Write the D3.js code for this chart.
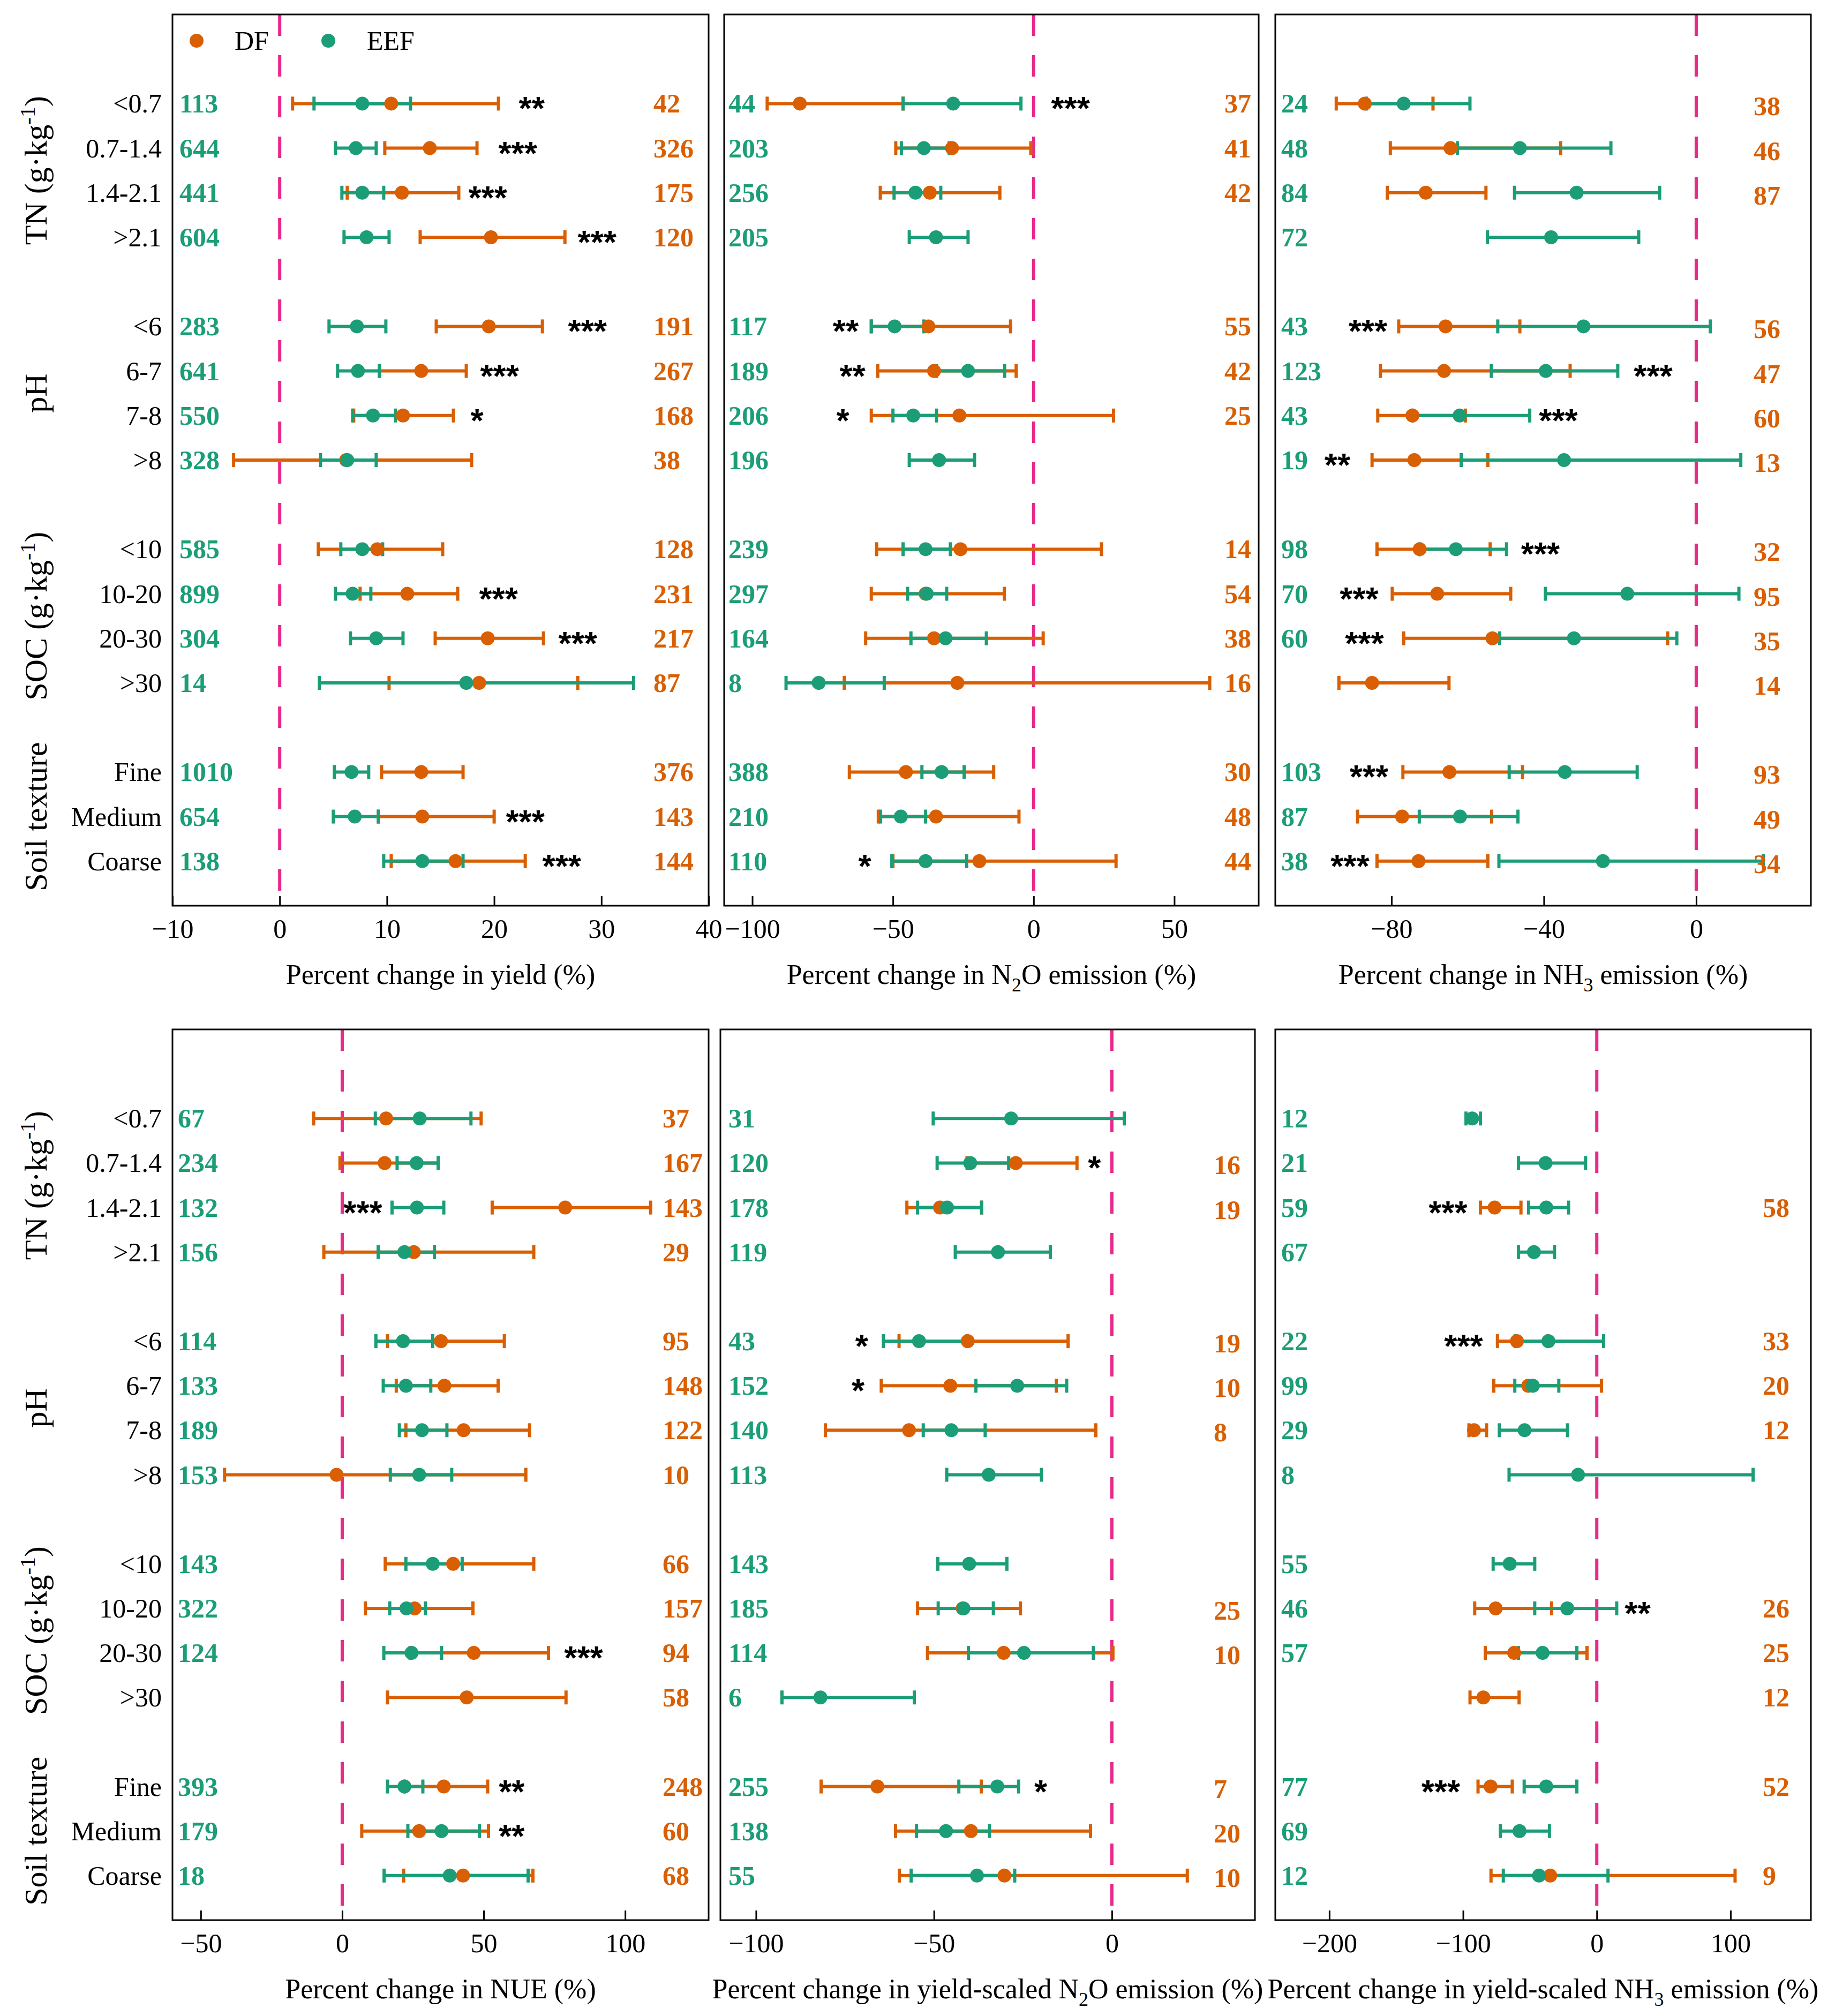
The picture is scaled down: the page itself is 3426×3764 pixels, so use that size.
<!DOCTYPE html>
<html><head><meta charset="utf-8">
<script src="https://cdn.jsdelivr.net/npm/d3@7"></script>
<style>body{margin:0;background:#fff} svg{display:block}</style>
</head><body>
<svg id="c" width="3426" height="3764"></svg>
<script>
// ---------------- DATA ----------------
const categories = ["<0.7","0.7-1.4","1.4-2.1",">2.1","<6","6-7","7-8",">8","<10","10-20","20-30",">30","Fine","Medium","Coarse"];
const groupNames = ["TN (g·kg-1)","pH","SOC (g·kg-1)","Soil texture"];
const groupSizes = [4,4,4,3];

// each entry: [mean, lower CI, upper CI]; null = not available
const yieldDF  = [[10.4,1.2,20.4],[14.0,9.8,18.4],[11.4,6.3,16.7],[19.7,13.1,26.6],[19.5,14.6,24.5],[13.2,9.3,17.4],[11.5,6.9,16.2],[6.2,-4.3,17.9],[9.1,3.6,15.2],[11.9,7.5,16.6],[19.4,14.5,24.6],[18.6,10.2,27.8],[13.2,9.5,17.1],[13.3,9.2,20.0],[16.4,10.4,22.9]];
const yieldEEF = [[7.7,3.2,12.2],[7.1,5.2,9.0],[7.7,5.8,9.7],[8.1,6.0,10.2],[7.2,4.6,9.9],[7.3,5.4,9.3],[8.7,6.8,10.8],[6.3,3.8,9.0],[7.7,5.7,9.6],[6.8,5.2,8.5],[9.0,6.6,11.5],[17.4,3.7,33.0],[6.7,5.1,8.3],[7.0,5.0,9.2],[13.3,9.7,17.1]];
const yieldDFn  = [42,326,175,120,191,267,168,38,128,231,217,87,376,143,144];
const yieldEEFn = [113,644,441,604,283,641,550,328,585,899,304,14,1010,654,138];
const yieldSig  = ["**","***","***","***","***","***","*","","","***","***","","","***","***"];
const yieldSigX = [23.5,22.2,19.4,29.6,28.7,20.5,18.4,null,null,20.4,27.8,null,null,22.9,26.3];
const yieldTicks = [-10,0,10,20,30,40];

const n2oDF  = [[-83.1,-94.7,-46.4],[-29.0,-49.0,-1.0],[-36.9,-54.5,-12.0],null,[-37.4,-57.7,-8.2],[-35.4,-55.4,-6.2],[-26.4,-57.7,28.4],null,[-26.0,-55.8,24.1],[-38.4,-57.7,-10.4],[-35.4,-59.7,3.4],[-27.1,-67.3,62.6],[-45.4,-65.5,-14.2],[-34.7,-55.2,-5.2],[-19.3,-50.0,29.3]];
const n2oEEF = [[-28.6,-46.4,-4.5],[-39.0,-47.0,-30.0],[-42.0,-49.6,-33.0],[-34.7,-44.2,-23.3],[-49.4,-57.7,-39.0],[-23.3,-34.5,-10.3],[-42.8,-50.0,-34.5],[-33.6,-44.2,-21.0],[-38.4,-46.4,-29.6],[-38.0,-44.8,-30.9],[-31.3,-43.6,-16.8],[-76.4,-88.0,-53.1],[-32.7,-39.7,-24.7],[-47.2,-54.4,-38.4],[-38.4,-50.4,-23.8]];
const n2oDFn  = [37,41,42,null,55,42,25,null,14,54,38,16,30,48,44];
const n2oEEFn = [44,203,256,205,117,189,206,196,239,297,164,8,388,210,110];
const n2oSig  = ["***","","","","**","**","*","","","","","","","","*"];
const n2oSigX = [13.1,null,null,null,-66.8,-64.4,-67.8,null,null,null,null,null,null,null,-60.0];
const n2oTicks = [-100,-50,0,50];

const nh3DF  = [[-87.0,-94.5,-69.1],[-64.5,-80.3,-35.6],[-71.0,-81.1,-55.2],null,[-65.8,-78.1,-46.3],[-66.2,-82.9,-33.1],[-74.5,-83.6,-60.6],[-74.0,-85.1,-54.7],[-72.6,-83.8,-54.1],[-68.0,-79.8,-48.7],[-53.5,-76.8,-7.5],[-85.1,-93.8,-64.9],[-64.8,-77.0,-45.6],[-77.2,-88.9,-53.7],[-72.9,-83.8,-54.7]];
const nh3EEF = [[-76.8,-86.6,-59.4],[-46.3,-62.7,-22.4],[-31.4,-47.7,-9.6],[-38.1,-54.8,-15.1],[-29.6,-52.1,3.7],[-39.5,-53.8,-20.6],[-62.1,-74.5,-43.7],[-34.7,-61.7,11.7],[-63.1,-72.6,-49.8],[-18.1,-39.6,11.2],[-32.1,-51.6,-5.1],null,[-34.5,-49.1,-15.5],[-62.0,-72.7,-46.8],[-24.5,-51.8,17.6]];
const nh3DFn  = [38,46,87,null,56,47,60,13,32,95,35,14,93,49,34];
const nh3EEFn = [24,48,84,72,43,123,43,19,98,70,60,null,103,87,38];
const nh3Sig  = ["","","","","***","***","***","**","***","***","***","","***","","***"];
const nh3SigX = [null,null,null,null,-86.2,-11.3,-36.2,-94.2,-40.9,-88.5,-87.1,null,-85.9,null,-90.9];
const nh3Ticks = [-80,-40,0];

const nueDF  = [[15.5,-10.1,49.1],[15.0,-0.8,33.9],[78.8,53.0,109.0],[25.3,-6.5,67.7],[34.9,16.0,57.3],[36.1,19.1,55.1],[42.9,22.5,66.2],[-2.0,-41.6,64.9],[39.2,15.2,67.7],[25.6,8.2,46.2],[46.5,24.0,72.9],[44.0,16.0,79.1],[35.9,22.0,51.4],[27.2,6.9,51.7],[42.7,21.7,67.4]];
const nueEEF = [[27.4,11.7,45.5],[26.3,19.4,33.9],[26.4,17.6,35.9],[22.0,12.7,32.6],[21.5,11.9,32.0],[22.5,14.5,31.3],[28.2,20.2,37.0],[27.2,17.0,38.7],[32.0,22.5,42.4],[22.7,16.8,29.4],[24.5,14.7,35.1],null,[22.0,16.0,28.5],[35.1,23.2,48.5],[38.0,14.8,65.7]];
const nueDFn  = [37,167,143,29,95,148,122,10,66,157,94,58,248,60,68];
const nueEEFn = [67,234,132,156,114,133,189,153,143,322,124,null,393,179,18];
const nueSig  = ["","","***","","","","","","","","***","","**","**",""];
const nueSigX = [null,null,7.3,null,null,null,null,null,null,null,85.3,null,59.9,59.9,null];
const nueTicks = [-50,0,50,100];

const ysn2oDF  = [null,[-27.0,-40.7,-9.8],[-48.3,-57.6,-36.6],null,[-40.5,-59.8,-12.3],[-45.4,-64.8,-15.6],[-57.0,-80.5,-4.5],null,null,[-41.9,-54.6,-25.7],[-30.4,-51.8,0.3],null,[-65.9,-81.7,-36.7],[-39.6,-60.8,-6.0],[-30.2,-59.7,21.2]];
const ysn2oEEF = [[-28.3,-50.2,3.5],[-39.8,-49.1,-29.0],[-46.3,-54.6,-36.6],[-32.0,-44.0,-17.3],[-54.2,-64.2,-40.7],[-26.6,-38.2,-12.7],[-45.1,-53.0,-35.6],[-34.6,-46.4,-19.8],[-40.1,-48.9,-29.5],[-41.7,-48.8,-33.3],[-24.7,-40.3,-5.2],[-81.9,-92.7,-55.5],[-32.2,-43.0,-26.2],[-46.6,-54.9,-34.4],[-37.9,-56.4,-27.3]];
const ysn2oDFn  = [null,16,19,null,19,10,8,null,null,25,10,null,7,20,10];
const ysn2oEEFn = [31,120,178,119,43,152,140,113,143,185,114,6,255,138,55];
const ysn2oSig  = ["","*","","","*","*","","","","","","","*","",""];
const ysn2oSigX = [null,-4.9,null,null,-70.3,-71.3,null,null,null,null,null,null,-20.0,null,null];
const ysn2oTicks = [-100,-50,0];

const ysnh3DF  = [null,null,[-76.4,-87.0,-56.7],null,[-59.7,-74.3,-36.7],[-51.3,-77.0,3.5],[-91.8,-95.6,-82.4],null,null,[-75.6,-91.3,-33.8],[-61.8,-83.4,-7.3],[-84.8,-94.8,-58.1],[-79.4,-88.8,-63.2],null,[-34.8,-79.1,103.4]];
const ysnh3EEF = [[-93.2,-97.8,-87.0],[-38.3,-58.6,-8.4],[-37.8,-51.0,-21.1],[-47.0,-58.6,-31.6],[-36.2,-61.0,5.1],[-47.8,-61.3,-28.4],[-54.0,-72.9,-21.9],[-14.0,-65.6,116.9],[-65.1,-77.5,-46.4],[-22.1,-46.4,14.9],[-40.5,-58.6,-14.9],null,[-37.8,-54.3,-14.9],[-57.8,-72.1,-35.4],[-43.2,-69.9,8.4]];
const ysnh3DFn  = [null,null,58,null,33,20,12,null,null,26,25,12,52,null,9];
const ysnh3EEFn = [12,21,59,67,22,99,29,8,55,46,57,null,77,69,12];
const ysnh3Sig  = ["","","***","","***","","","","","**","","","***","",""];
const ysnh3SigX = [null,null,-111.3,null,-99.6,null,null,null,null,30.5,null,null,-116.7,null,null];
const ysnh3Ticks = [-200,-100,0,100];

const seriesNames = ["DF","EEF"];

// ---------------- LAYOUT ----------------
const FONT = "'Liberation Serif','Times New Roman',Times,serif";
const C_DF = "#D95F02", C_EEF = "#1B9E77", C_ZERO = "#E7298A";
const TOP = {y0:27, y1:1691}, BOT = {y0:1922, y1:3585};

const panels = [
  {x0:322, x1:1323, ...TOP, domain:[-10,40], ticks:yieldTicks, title:[["Percent change in yield (%)"]],
   df:yieldDF, dfN:yieldDFn, eef:yieldEEF, eefN:yieldEEFn, sig:yieldSig, sigX:yieldSigX, eefLX:335, dfLX:1220, dfDy:0, cats:true, legend:true},
  {x0:1352, x1:2350, ...TOP, domain:[-110,80], ticks:n2oTicks, title:[["Percent change in N"],["2","sub"],["O emission (%)"]],
   df:n2oDF, dfN:n2oDFn, eef:n2oEEF, eefN:n2oEEFn, sig:n2oSig, sigX:n2oSigX, eefLX:1360, dfLX:2286, dfDy:0},
  {x0:2381, x1:3381, ...TOP, domain:[-110.5,30.1], ticks:nh3Ticks, title:[["Percent change in NH"],["3","sub"],[" emission (%)"]],
   df:nh3DF, dfN:nh3DFn, eef:nh3EEF, eefN:nh3EEFn, sig:nh3Sig, sigX:nh3SigX, eefLX:2392, dfLX:3274, dfDy:5},
  {x0:322, x1:1323, ...BOT, domain:[-60,129.5], ticks:nueTicks, title:[["Percent change in NUE (%)"]],
   df:nueDF, dfN:nueDFn, eef:nueEEF, eefN:nueEEFn, sig:nueSig, sigX:nueSigX, eefLX:332, dfLX:1237, dfDy:0, cats:true},
  {x0:1345, x1:2343, ...BOT, domain:[-110,40.2], ticks:ysn2oTicks, title:[["Percent change in yield-scaled N"],["2","sub"],["O emission (%)"]],
   df:ysn2oDF, dfN:ysn2oDFn, eef:ysn2oEEF, eefN:ysn2oEEFn, sig:ysn2oSig, sigX:ysn2oSigX, eefLX:1360, dfLX:2266, dfDy:4},
  {x0:2381, x1:3381, ...BOT, domain:[-240.4,160.1], ticks:ysnh3Ticks, title:[["Percent change in yield-scaled NH"],["3","sub"],[" emission (%)"]],
   df:ysnh3DF, dfN:ysnh3DFn, eef:ysnh3EEF, eefN:ysnh3EEFn, sig:ysnh3Sig, sigX:ysnh3SigX, eefLX:2392, dfLX:3291, dfDy:0}
];

// slot index for each category (a blank slot between groups)
const slots = [];
groupSizes.forEach((n,gi)=>{ const start = slots.length + gi; for(let k=0;k<n;k++) slots.push(start+k); });

const svg = d3.select("#c");
svg.append("rect").attr("width",3426).attr("height",3764).attr("fill","#fff");

const CAP = 13, LW = 6, R = 13;

function addLabel(sel, txt){
  const m = txt.split("-1");
  if(m.length === 1){ sel.text(txt); return; }
  sel.append("tspan").text(m[0]);
  sel.append("tspan").attr("dy",-22).attr("font-size",40).text("-1");
  sel.append("tspan").attr("dy",22).text(m[1]);
}

panels.forEach(p=>{
  const g = svg.append("g");
  const x = d3.scaleLinear().domain(p.domain).range([p.x0,p.x1]);
  const y = d3.scaleLinear().domain([-2,18]).range([p.y0,p.y1]);

  g.append("line").attr("x1",x(0)).attr("x2",x(0)).attr("y1",p.y0).attr("y2",p.y1)
    .attr("stroke",C_ZERO).attr("stroke-width",6).attr("stroke-dasharray","40,36");

  const ax = g.append("g").attr("transform",`translate(0,${p.y1})`)
    .call(d3.axisBottom(x).tickValues(p.ticks).tickSizeInner(-18).tickSizeOuter(0));
  ax.select(".domain").remove();
  ax.selectAll(".tick line").attr("stroke","#000").attr("stroke-width",3);
  ax.selectAll(".tick text").attr("y",60).attr("dy",0).attr("font-family",FONT).attr("font-size",50).attr("fill","#000");

  const t = g.append("text").attr("x",(p.x0+p.x1)/2).attr("y",p.y1+146).attr("text-anchor","middle")
    .attr("font-family",FONT).attr("font-size",52).attr("fill","#000");
  p.title.forEach((part,k)=>{
    if(part[1]==="sub"){ t.append("tspan").attr("dy",14).attr("font-size",36).text(part[0]); }
    else { const ts = t.append("tspan").text(part[0]); if(k>0) ts.attr("dy",-14).attr("font-size",52); }
  });

  const series = [
    {data:p.df, color:C_DF},
    {data:p.eef, color:C_EEF}
  ];
  series.forEach(s=>{
    const rows = s.data.map((d,i)=>d?{d,i}:null).filter(Boolean);
    const eb = g.append("g").attr("stroke",s.color).attr("stroke-width",LW).attr("fill","none");
    eb.selectAll("line.h").data(rows).join("line").attr("class","h")
      .attr("x1",r=>x(r.d[1])).attr("x2",r=>x(r.d[2])).attr("y1",r=>y(slots[r.i])).attr("y2",r=>y(slots[r.i]));
    eb.selectAll("line.l").data(rows).join("line").attr("class","l")
      .attr("x1",r=>x(r.d[1])).attr("x2",r=>x(r.d[1])).attr("y1",r=>y(slots[r.i])-CAP).attr("y2",r=>y(slots[r.i])+CAP);
    eb.selectAll("line.u").data(rows).join("line").attr("class","u")
      .attr("x1",r=>x(r.d[2])).attr("x2",r=>x(r.d[2])).attr("y1",r=>y(slots[r.i])-CAP).attr("y2",r=>y(slots[r.i])+CAP);
  });
  series.forEach(s=>{
    const rows = s.data.map((d,i)=>d?{d,i}:null).filter(Boolean);
    g.append("g").selectAll("circle").data(rows).join("circle")
      .attr("cx",r=>x(r.d[0])).attr("cy",r=>y(slots[r.i])).attr("r",R).attr("fill",s.color);
  });

  g.append("g").selectAll("text").data(p.eefN.map((n,i)=>({n,i})).filter(d=>d.n!=null)).join("text")
    .attr("x",p.eefLX).attr("y",d=>y(slots[d.i])+17).attr("font-family",FONT).attr("font-weight","bold")
    .attr("font-size",50).attr("fill",C_EEF).text(d=>d.n);
  g.append("g").selectAll("text").data(p.dfN.map((n,i)=>({n,i})).filter(d=>d.n!=null)).join("text")
    .attr("x",p.dfLX).attr("y",d=>y(slots[d.i])+17+p.dfDy).attr("font-family",FONT).attr("font-weight","bold")
    .attr("font-size",50).attr("fill",C_DF).text(d=>d.n);

  g.append("g").selectAll("text").data(p.sig.map((s,i)=>({s,i,v:p.sigX[i]})).filter(d=>d.s)).join("text")
    .attr("x",d=>x(d.v)).attr("y",d=>y(slots[d.i])+30).attr("text-anchor","middle")
    .attr("font-family","'Liberation Sans',Arial,sans-serif").attr("font-weight","bold")
    .attr("font-size",62).attr("fill","#000").text(d=>d.s);

  g.append("rect").attr("x",p.x0).attr("y",p.y0).attr("width",p.x1-p.x0).attr("height",p.y1-p.y0)
    .attr("fill","none").attr("stroke","#000").attr("stroke-width",3);

  if(p.cats){
    g.append("g").selectAll("text").data(categories).join("text")
      .attr("x",302).attr("y",(d,i)=>y(slots[i])+17).attr("text-anchor","end")
      .attr("font-family",FONT).attr("font-size",50).attr("fill","#000").text(d=>d);
    let start = 0;
    groupNames.forEach((name,gi)=>{
      const first = slots[start], last = slots[start+groupSizes[gi]-1];
      const cy = y((first+last)/2);
      const tx = g.append("text").attr("transform",`translate(87,${cy}) rotate(-90)`).attr("text-anchor","middle")
        .attr("font-family",FONT).attr("font-size",60).attr("fill","#000");
      addLabel(tx,name);
      start += groupSizes[gi];
    });
  }

  if(p.legend){
    const lg = g.append("g");
    const items = [{name:seriesNames[0],color:C_DF,cx:367,tx:438},{name:seriesNames[1],color:C_EEF,cx:613,tx:685}];
    items.forEach(it=>{
      lg.append("circle").attr("cx",it.cx).attr("cy",76).attr("r",R).attr("fill",it.color);
      lg.append("text").attr("x",it.tx).attr("y",93).attr("font-family",FONT).attr("font-size",50).attr("fill","#000").text(it.name);
    });
  }
});
</script>
</body></html>
